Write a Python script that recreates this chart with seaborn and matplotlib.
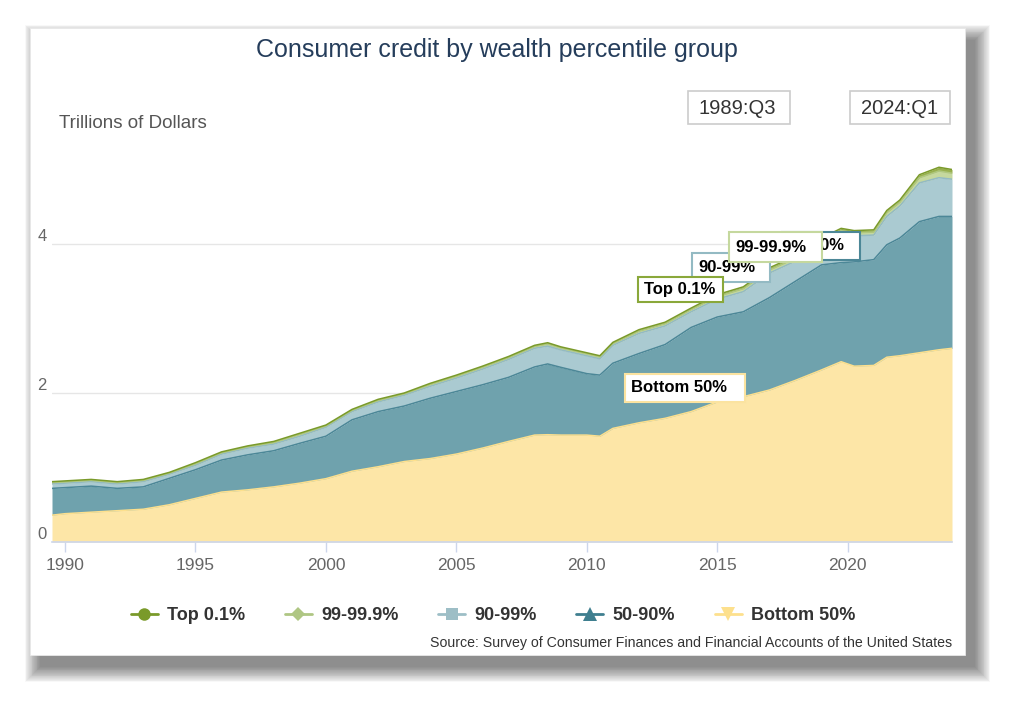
import numpy as np
import pandas as pd
import matplotlib
matplotlib.use("Agg")
import matplotlib.pyplot as plt
import seaborn as sns
from matplotlib.patches import Rectangle
from matplotlib.lines import Line2D

# ---------------- data (trillions of dollars) ----------------
dates = [1989.5, 1990.0, 1991.0, 1992.0, 1993.0, 1994.0, 1995.0, 1996.0, 1997.0, 1998.0,
         1999.0, 2000.0, 2001.0, 2002.0, 2003.0, 2004.0, 2005.0, 2006.0, 2007.0, 2008.0,
         2008.5, 2009.0, 2010.0, 2010.5, 2011.0, 2012.0, 2013.0, 2014.0, 2015.0, 2016.0,
         2017.0, 2018.0, 2019.0, 2019.75, 2020.25, 2021.0, 2021.5, 2022.0, 2022.75, 2023.5,
         2024.0]
bottom_50 = [0.36, 0.38, 0.40, 0.42, 0.44, 0.50, 0.585, 0.67, 0.70, 0.74,
             0.79, 0.85, 0.95, 1.01, 1.08, 1.12, 1.18, 1.26, 1.35, 1.435,
             1.44, 1.435, 1.435, 1.42, 1.525, 1.60, 1.66, 1.75, 1.88, 1.95,
             2.04, 2.17, 2.31, 2.42, 2.36, 2.37, 2.48, 2.50, 2.54, 2.58,
             2.60]
p50_90 = [0.36, 0.35, 0.35, 0.30, 0.30, 0.355, 0.385, 0.43, 0.47, 0.485,
          0.535, 0.57, 0.69, 0.74, 0.745, 0.81, 0.84, 0.85, 0.86, 0.915,
          0.95, 0.91, 0.825, 0.82, 0.875, 0.93, 0.99, 1.13, 1.14, 1.14,
          1.24, 1.33, 1.41, 1.33, 1.40, 1.42, 1.51, 1.58, 1.76, 1.79,
          1.77]
p90_99 = [0.06, 0.06, 0.06, 0.06, 0.07, 0.055, 0.06, 0.08, 0.09, 0.09,
          0.095, 0.12, 0.11, 0.13, 0.145, 0.16, 0.18, 0.21, 0.24, 0.25,
          0.24, 0.235, 0.24, 0.22, 0.24, 0.27, 0.25, 0.21, 0.24, 0.27,
          0.33, 0.27, 0.29, 0.39, 0.35, 0.33, 0.38, 0.43, 0.52, 0.52,
          0.50]
p99_999 = [0.018, 0.018, 0.018, 0.018, 0.018, 0.015, 0.02, 0.018, 0.018, 0.02,
           0.025, 0.018, 0.018, 0.02, 0.018, 0.025, 0.025, 0.025, 0.025, 0.025,
           0.028, 0.025, 0.025, 0.025, 0.025, 0.03, 0.03, 0.03, 0.035, 0.04,
           0.04, 0.04, 0.04, 0.04, 0.04, 0.04, 0.05, 0.05, 0.07, 0.09,
           0.08]
top_01 = [0.012, 0.012, 0.012, 0.012, 0.012, 0.01, 0.015, 0.012, 0.012, 0.015,
          0.015, 0.012, 0.012, 0.015, 0.012, 0.015, 0.015, 0.015, 0.015, 0.015,
          0.017, 0.015, 0.015, 0.015, 0.015, 0.02, 0.02, 0.02, 0.025, 0.025,
          0.03, 0.03, 0.03, 0.03, 0.03, 0.03, 0.03, 0.03, 0.04, 0.05,
          0.05]
series_names = ["Bottom 50%", "50-90%", "90-99%", "99-99.9%", "Top 0.1%"]
x_ticks = [1990, 1995, 2000, 2005, 2010, 2015, 2020]
y_ticks = [0, 2, 4]
range_labels = ["1989:Q3", "2024:Q1"]

# ---------------- styles ----------------
fill_colors = ["#FDE6A7", "#6FA2AD", "#AACAD1", "#C5D89E", "#98B04E"]
edge_colors = ["#FDE08D", "#4C8797", "#93BAC3", "#AFC77F", "#7A9A2A"]
legend_colors = {"Top 0.1%": "#7A9A2A", "99-99.9%": "#AFC683", "90-99%": "#9DBEC6",
                 "50-90%": "#3F7F8F", "Bottom 50%": "#FDE08D"}
legend_markers = {"Top 0.1%": "o", "99-99.9%": "D", "90-99%": "s",
                  "50-90%": "^", "Bottom 50%": "v"}

sns.set_theme(style="white")
plt.rcParams["font.family"] = ["Liberation Sans", "DejaVu Sans"]

W, H = 1024, 713
fig = plt.figure(figsize=(W / 100, H / 100), dpi=100)
fig.patch.set_facecolor("white")


def fx(px):
    return px / W


def fy(py):
    return 1 - py / H


# ---------------- card with soft shadow (mostly right / bottom) ----------------
cx0, cy0, cx1, cy1 = 30, 28, 965, 655
dx, dy, step = 10, 12, 0.85
for i in range(18, -1, -1):
    e = i * step
    fig.patches.append(Rectangle((fx(cx0 + dx - e), fy(cy1 + dy + e)),
                                 fx(cx1 - cx0 + 2 * e), (cy1 - cy0 + 2 * e) / H,
                                 transform=fig.transFigure, facecolor="black",
                                 edgecolor="none", alpha=0.026, zorder=-20))
fig.patches.append(Rectangle((fx(cx0), fy(cy1)), fx(cx1 - cx0), (cy1 - cy0) / H,
                             transform=fig.transFigure, facecolor="white",
                             edgecolor="#E8E8E8", lw=0.6, zorder=-10))

# ---------------- axes ----------------
x0_px, x1_px, base_px = 52, 952, 542
ppu = 74.5
ylim_top = 5.5
ax = fig.add_axes([fx(x0_px), fy(base_px), fx(x1_px - x0_px), ylim_top * ppu / H])
ax.patch.set_alpha(0)

stack = [bottom_50, p50_90, p90_99, p99_999, top_01]
ax.stackplot(dates, *stack, colors=fill_colors, lw=0, zorder=2)

cum = np.cumsum(np.array(stack), axis=0)
df = pd.DataFrame({"date": np.tile(dates, len(series_names)),
                   "value": cum.ravel(),
                   "group": np.repeat(series_names, len(dates))})
sns.lineplot(data=df, x="date", y="value", hue="group", hue_order=series_names,
             palette=dict(zip(series_names, edge_colors)), linewidth=1.1,
             legend=False, ax=ax, zorder=3)

ax.set_xlim(dates[0], dates[-1])
ax.set_ylim(0, ylim_top)
ax.set_xlabel("")
ax.set_ylabel("")
ax.set_xticks(x_ticks)
ax.set_xticklabels([str(t) for t in x_ticks])
ax.set_yticks(y_ticks)
ax.set_yticklabels([str(t) for t in y_ticks])
for lab in ax.get_yticklabels():
    lab.set_verticalalignment("bottom")
ax.tick_params(axis="y", length=0, pad=4, labelsize=12, labelcolor="#666666")
ax.tick_params(axis="x", direction="out", length=7.5, width=1, color="#CCD6EB",
               pad=4, labelsize=12.5, labelcolor="#666666", bottom=True)
ax.grid(axis="y", color="#E6E6E6", lw=1, zorder=0)
ax.grid(axis="x", visible=False)
for s in ["top", "right", "left"]:
    ax.spines[s].set_visible(False)
ax.spines["bottom"].set_color("#CCD6EB")
ax.spines["bottom"].set_linewidth(1.2)
ax.spines["bottom"].set_zorder(4)

# ---------------- texts ----------------
fig.text(fx(497), fy(50), "Consumer credit by wealth percentile group", ha="center",
         va="center", fontsize=18, color="#253D5B")
fig.text(fx(59), fy(124), "Trillions of Dollars", ha="left", va="center",
         fontsize=13.5, color="#555555")

for (bx0, bx1), txt in zip([(688, 790), (850, 950)], range_labels):
    fig.patches.append(Rectangle((fx(bx0), fy(124)), fx(bx1 - bx0), 33 / H,
                                 transform=fig.transFigure, facecolor="white",
                                 edgecolor="#CCCCCC", lw=1.2, zorder=5))
    fig.text(fx(bx0 + 11), fy(108), txt, ha="left", va="center", fontsize=14.5,
             color="#333333", zorder=6)


def label_box(bx0, bx1, by0, by1, txt, edge, z):
    fig.patches.append(Rectangle((fx(bx0), fy(by1)), fx(bx1 - bx0), (by1 - by0) / H,
                                 transform=fig.transFigure, facecolor="white",
                                 edgecolor=edge, lw=1.5, zorder=z))
    fig.text(fx(bx0 + 6), fy((by0 + by1) / 2), txt, ha="left", va="center",
             fontsize=12, fontweight="bold", color="black", zorder=z + 0.5)


# tooltip-style labels; the 50-90% label is partly covered as in the original
label_box(692, 770, 253, 282, "90-99%", "#93BAC3", 5)
label_box(782, 860, 232, 260, "50-90%", "#4C8797", 7)
label_box(729, 822, 232, 262, "99-99.9%", "#C5D89E", 9)
label_box(638, 723, 277, 302, "Top 0.1%", "#8AA83A", 9)
label_box(625, 745, 374, 402, "Bottom 50%", "#FBE3A0", 9)

# ---------------- legend ----------------
legend_order = ["Top 0.1%", "99-99.9%", "90-99%", "50-90%", "Bottom 50%"]
msize = {"o": 9, "D": 7, "s": 9, "^": 9.5, "v": 9.5}
handles = [Line2D([0], [0], color=legend_colors[n], lw=2, marker=legend_markers[n],
                  markersize=msize[legend_markers[n]], markeredgewidth=0)
           for n in legend_order]
leg = fig.legend(handles, legend_order, loc="center", bbox_to_anchor=(fx(493), fy(616)),
                 ncol=5, frameon=False, handlelength=1.5, handletextpad=0.5,
                 columnspacing=2.2, prop={"size": 13, "weight": "bold"})
for t in leg.get_texts():
    t.set_color("#333333")

fig.text(fx(952), fy(643), "Source: Survey of Consumer Finances and Financial Accounts of the United States",
         ha="right", va="center", fontsize=10.2, color="#333333")

fig.savefig("out.png", dpi=100, facecolor="white")
